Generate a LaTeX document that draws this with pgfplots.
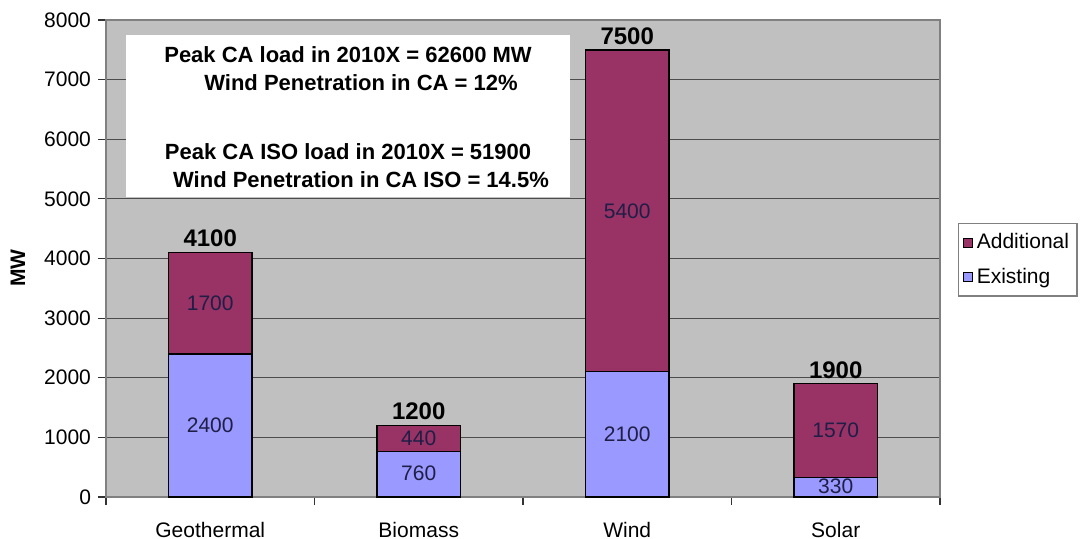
\documentclass[border=0pt]{standalone}
\usepackage{pgfplots}
\pgfplotsset{compat=1.18}
\usepackage{fontspec}
\setmainfont{Liberation Sans}
\definecolor{plotbg}{HTML}{C0C0C0}
\definecolor{existing}{HTML}{9999FF}
\definecolor{additional}{HTML}{993366}
\definecolor{labcol}{HTML}{1E1E46}
\definecolor{framecol}{HTML}{808080}
\begin{document}
\begin{tikzpicture}
\path[use as bounding box] (-53pt,-21pt) rectangle (488.5pt,248.5pt);
\begin{axis}[
  at={(0,0)}, anchor=south west,
  scale only axis, width=417pt, height=238.5pt,
  xmin=-0.5, xmax=3.5, ymin=0, ymax=8000,
  clip=false,
  ybar stacked, bar width=0.4,
  axis background/.style={fill=plotbg},
  axis line style={draw=framecol, line width=0.8pt},
  ymajorgrids, grid style={draw=black!70, line width=0.5pt},
  ytick={0,1000,...,8000},
  xtick={-0.5,0.5,1.5,2.5,3.5},
  x tick label as interval,
  xticklabels={Geothermal,Biomass,Wind,Solar,},
  tick align=outside, tick pos=left,
  major tick length=4pt,
  tick style={draw=black!80, line width=0.6pt},
  /pgf/number format/1000 sep={},
  /pgf/number format/assume math mode=true,
  tick label style={font=\fontsize{10.5}{12}\selectfont},
  xticklabel style={yshift=-5pt},
  ylabel={\bfseries MW},
  ylabel style={at={(axis description cs:-0.1055,0.48)}, anchor=center, font=\fontsize{10.5}{12}\selectfont},
  legend cell align=left,
  legend style={at={(1.0216,0.5744)}, anchor=north west, draw=framecol, line width=0.6pt, fill=white,
    font=\fontsize{10.5}{12}\selectfont, row sep=4pt, inner ysep=3pt, inner xsep=2pt},
  legend image code/.code={\draw[#1, draw=black, line width=0.5pt] (0pt,-2.3pt) rectangle (4.6pt,2.3pt);},
  reverse legend,
]
\addplot[fill=existing, draw=black, line width=0.7pt] coordinates {(0,2400) (1,760) (2,2100) (3,330)};
\addlegendentry{Existing}
\addplot[fill=additional, draw=black, line width=0.7pt] coordinates {(0,1700) (1,440) (2,5400) (3,1570)};
\addlegendentry{Additional}
\end{axis}
\begin{axis}[
  at={(0,0)}, anchor=south west,
  scale only axis, width=417pt, height=238.5pt,
  xmin=-0.5, xmax=3.5, ymin=0, ymax=8000,
  hide axis, clip=false,
]
\fill[white] (axis cs:-0.404,7748) rectangle (axis cs:1.725,5031);
\node[font=\bfseries\fontsize{11}{13}\selectfont, inner sep=0pt] at (axis cs:0.661,7413) {Peak CA load in 2010X = 62600 MW};
\node[font=\bfseries\fontsize{11}{13}\selectfont, inner sep=0pt] at (axis cs:0.723,6943) {Wind Penetration in CA = 12\%};
\node[font=\bfseries\fontsize{11}{13}\selectfont, inner sep=0pt] at (axis cs:0.661,5786) {Peak CA ISO load in 2010X = 51900};
\node[font=\bfseries\fontsize{11}{13}\selectfont, inner sep=0pt] at (axis cs:0.723,5317) {Wind Penetration in CA ISO = 14.5\%};
\addplot[draw=none, mark=none, nodes near coords, point meta=explicit symbolic,
  every node near coord/.style={anchor=center, text=labcol, font=\fontsize{10.5}{12}\selectfont}]
  coordinates {(0,1200)[2400] (1,400)[760] (2,1050)[2100] (3,175)[330]
               (0,3250)[1700] (1,980)[440] (2,4800)[5400] (3,1115)[1570]};
\addplot[draw=none, mark=none, nodes near coords, point meta=explicit symbolic,
  every node near coord/.style={anchor=south, inner sep=2.5pt, text=black, font=\bfseries\fontsize{12}{14}\selectfont}]
  coordinates {(0,4100)[4100] (1,1200)[1200] (2,7500)[7500] (3,1900)[1900]};
\end{axis}
\end{tikzpicture}
\end{document}
